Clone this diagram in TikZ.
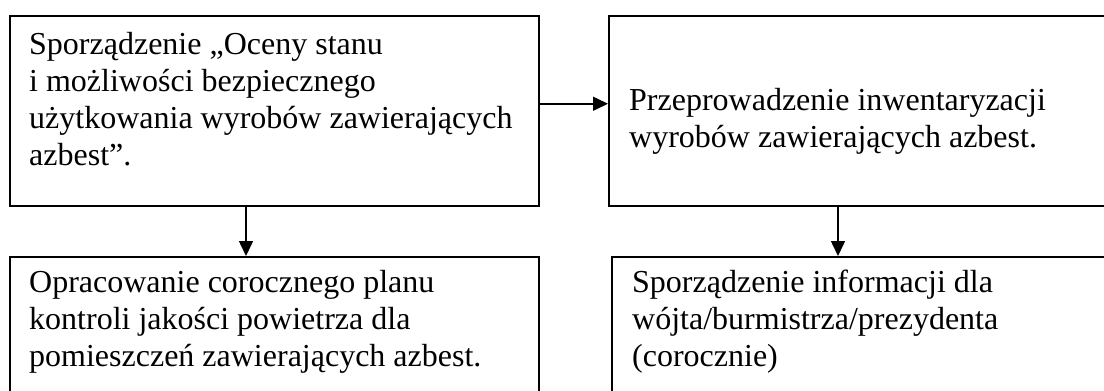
\documentclass[tikz,border=0pt]{standalone}
\usepackage{fontspec}
\setmainfont{Liberation Serif}
\usetikzlibrary{arrows.meta}
\tikzset{
  box/.style={draw=black, line width=1.5pt, rectangle, anchor=north west, inner sep=0pt, fill=white},
  label/.style={anchor=north west, inner sep=0pt, align=left, font=\fontsize{32}{37}\selectfont},
  conn/.style={line width=1.5pt, -{Triangle[length=15pt,width=14pt]}}
}
\begin{document}
\begin{tikzpicture}[x=1pt,y=-1pt]
\useasboundingbox (0,0) rectangle (1104,391);
\fill[white] (0,0) rectangle (1104,391);
\clip (0,0) rectangle (1104,391);
\node[box, minimum width=529pt, minimum height=190pt] (A) at (9,15) {};
\node[box, minimum width=520pt, minimum height=190pt] (B) at (608,15) {};
\node[box, minimum width=529pt, minimum height=160pt] (C) at (9,256) {};
\node[box, minimum width=520pt, minimum height=160pt] (D) at (611,256) {};
\node[label] (tA) at (29,28.1) {\strut Sporządzenie „Oceny stanu\\i możliwości bezpiecznego\\użytkowania wyrobów zawierających\\azbest”.};
\node[label] (tB) at (629,84.1) {\strut Przeprowadzenie inwentaryzacji\\wyrobów zawierających azbest.};
\node[label] (tC) at (29,266.1) {\strut Opracowanie corocznego planu\\kontroli jakości powietrza dla\\pomieszczeń zawierających azbest.};
\node[label] (tD) at (632,266.1) {\strut Sporządzenie informacji dla\\wójta/burmistrza/prezydenta\\(corocznie)};
\draw[conn] ([yshift=7pt]A.east) -- ([yshift=7pt]A.east -| B.west);
\draw[conn] ([xshift=237pt]A.south west) -- ([xshift=237pt]A.south west |- C.north);
\draw[conn] ([xshift=230pt]B.south west) -- ([xshift=230pt]B.south west |- D.north);
\end{tikzpicture}
\end{document}
